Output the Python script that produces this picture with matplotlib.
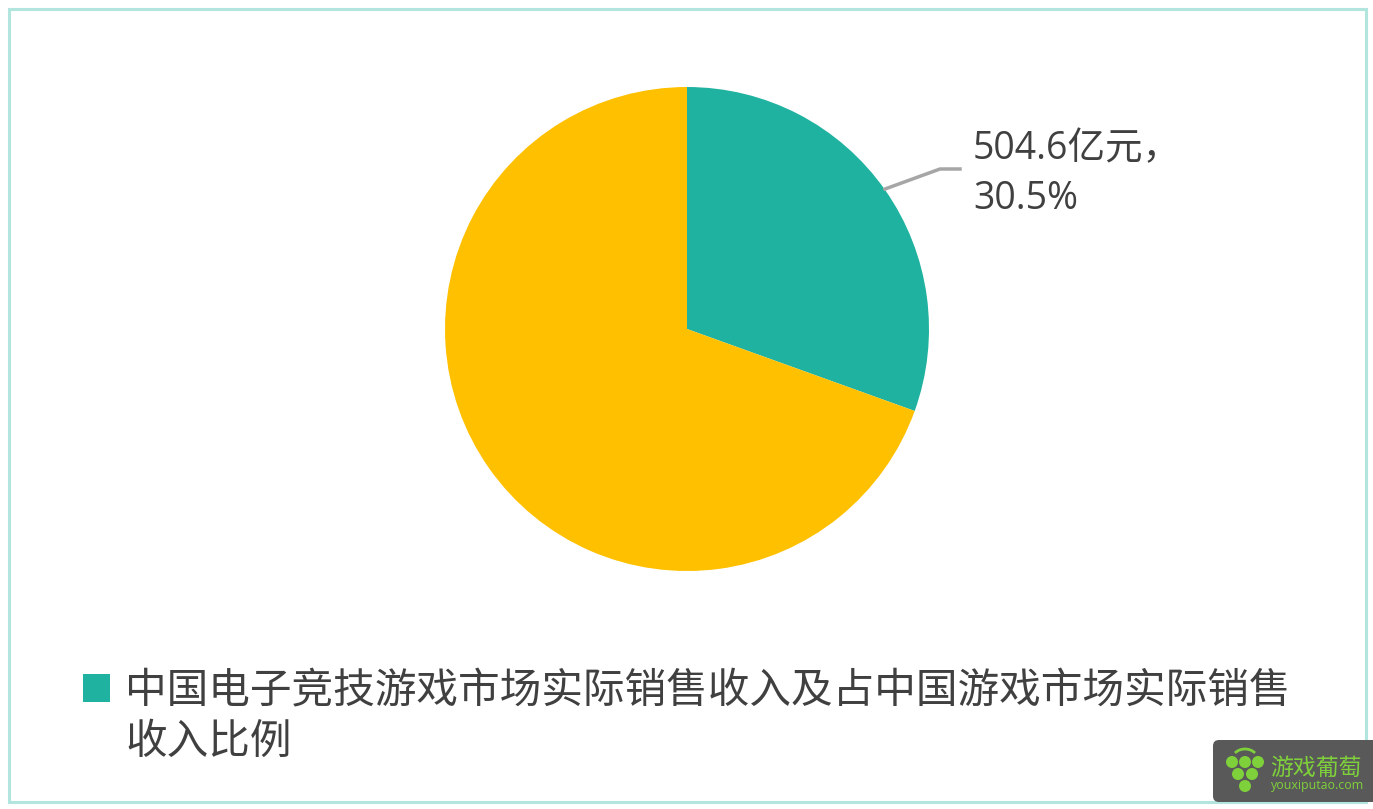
#!/usr/bin/env python3
# -*- coding: utf-8 -*-
from matplotlib import pyplot as plt
from matplotlib.patches import FancyBboxPatch, Rectangle, Circle, Arc

W, H = 1373, 809

# Data
sales_values = [504.6, 1149.8]  # 100 million yuan
slice_colors = ["#20B2A0", "#FFC000"]
label_lines = ["504.6亿元，", "30.5%"]
legend_lines = [
    "中国电子竞技游戏市场实际销售收入及占中国游戏市场实际销售",
    "收入比例",
]
logo_title = "游戏葡萄"
logo_url = "youxiputao.com"

LATIN_CJK = ["Open Sans", "Noto Sans CJK SC", "DejaVu Sans"]
CJK = ["Noto Sans CJK SC", "DejaVu Sans"]
TEXT_COLOR = "#404040"
LOGO_GREEN = "#7FD13B"

fig = plt.figure(figsize=(W / 100, H / 100), dpi=100, facecolor="white")

# Overlay in pixel coordinates, y pointing down
ov = fig.add_axes([0, 0, 1, 1], zorder=2)
ov.set_xlim(0, W)
ov.set_ylim(H, 0)
ov.axis("off")
ov.patch.set_alpha(0)

# Outer border
ov.add_patch(
    Rectangle((9, 8.5), 1357, 793.5, fill=False, edgecolor="#B2E5DD", linewidth=2.2)
)

# Pie
cx, cy, r = 687, 329, 242
ax_pie = fig.add_axes(
    [(cx - r) / W, 1 - (cy + r) / H, 2 * r / W, 2 * r / H], zorder=1
)
ax_pie.pie(
    sales_values, colors=slice_colors, startangle=90, counterclock=False, radius=1
)
ax_pie.set_xlim(-1, 1)
ax_pie.set_ylim(-1, 1)

# Leader line and data label
ov.plot([885, 940, 960], [189, 169, 169], color="#A6A6A6", linewidth=2.5)
for k, line in enumerate(label_lines):
    ov.text(
        973, 149 + 50 * k, line, family=LATIN_CJK, fontsize=27.0,
        color=TEXT_COLOR, ha="left", va="center",
    )

# Legend
ov.add_patch(Rectangle((83, 674), 27, 28, facecolor=slice_colors[0], edgecolor="none"))
for k, line in enumerate(legend_lines):
    ov.text(
        125, 692 + 50 * k, line, family=CJK, fontsize=30.0, fontweight="light",
        color=TEXT_COLOR, ha="left", va="center",
    )

# Watermark logo
ov.add_patch(
    FancyBboxPatch(
        (1213, 740), 165, 62, boxstyle="round,pad=0,rounding_size=6",
        facecolor="#595959", edgecolor="none", clip_on=True,
    )
)
for x, y, rad in [
    (1232, 762, 6), (1245, 762, 6), (1258, 762, 6),
    (1238, 774, 6), (1252, 774, 6), (1245, 786, 6),
]:
    ov.add_patch(Circle((x, y), rad, facecolor=LOGO_GREEN, edgecolor="none"))
ov.add_patch(
    Arc((1245, 760), 26, 22, theta1=215, theta2=325, color=LOGO_GREEN, linewidth=2)
)
ov.text(1270, 768, logo_title, family=CJK, fontsize=16.5, color=LOGO_GREEN,
        ha="left", va="center")
ov.text(1271, 786, logo_url, family=["Open Sans"], fontsize=8.9, color=LOGO_GREEN,
        ha="left", va="center")

fig.savefig("out.png", dpi=100)
